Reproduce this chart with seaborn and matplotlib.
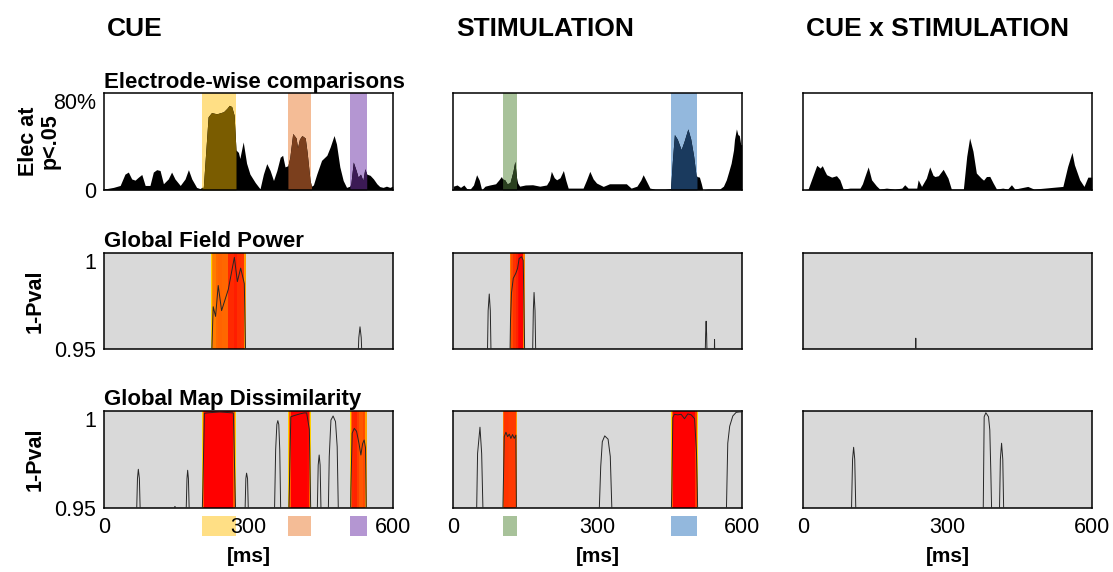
import numpy as np
import matplotlib
matplotlib.use("Agg")
import matplotlib.pyplot as plt
import seaborn as sns
from matplotlib.colors import LinearSegmentedColormap, Normalize

sns.set_theme(style="white")
plt.rcParams['font.family'] = ['Liberation Sans', 'DejaVu Sans']
plt.rcParams['text.color'] = 'black'
plt.rcParams['axes.labelcolor'] = 'black'

# ---- labels ----
col_titles = ["CUE", "STIMULATION", "CUE x STIMULATION"]
row_titles = ["Electrode-wise comparisons", "Global Field Power", "Global Map Dissimilarity"]
x_ticks = [0, 300, 600]

# ---- electrode-wise comparisons (% electrodes at p<.05) ----
cue_elec_t = [0, 5, 19, 33, 43, 50, 57, 64, 71, 78, 85, 95, 102, 109, 116, 123, 133, 140, 147, 158,
              168, 175, 182, 192, 199, 203, 206, 216, 223, 234, 248, 255, 260, 265, 270, 274, 279, 282, 289, 296,
              303, 314, 324, 331, 338, 345, 352, 359, 366, 371, 376, 382, 386, 392, 399, 402, 406, 411, 418, 422,
              428, 431, 435, 442, 452, 463, 470, 478, 483, 490, 497, 504, 511, 513, 518, 524, 528, 533, 538, 542,
              546, 553, 560, 567, 573, 580, 587, 594, 600]
cue_elec_v = [1, 1, 2, 3.6, 13, 14.7, 9, 8, 10.5, 12.7, 3.6, 3.6, 14.7, 16.7, 16, 5, 9, 14.7, 9, 3.6,
              9, 16.7, 9, 2, 1, 2, 2, 60.5, 64, 63, 64.7, 67.5, 70, 69, 62, 33, 31, 26, 39.7, 22,
              13, 6, 0.8, 13, 21.7, 16, 7.7, 16, 27, 28.6, 19, 20, 27, 46.7, 43, 35, 42, 45, 43, 31,
              8, 3, 4, 13, 24.4, 28.6, 35.5, 45, 38, 19, 7.7, 2, 3, 5, 23, 16, 10.5, 13, 7.7, 17.5,
              13, 12, 9, 5, 2.7, 2, 3, 2, 3]

stim_elec_t = [0, 8, 15, 22, 28, 35, 42, 48.5, 54, 59, 66, 76, 88, 95, 100, 102.5, 107, 112, 118, 124,
               128, 131.6, 134, 138, 150, 165, 180, 194, 200, 204, 210, 215, 222, 229, 234, 239, 249, 262, 270, 277,
               284, 291, 298, 312, 325, 339, 352, 360, 370, 382, 390, 395, 402, 409, 420, 440, 452, 456, 460, 466,
               474, 480, 488, 494, 500, 505, 507, 512, 516, 519, 530, 545, 554, 562, 568, 573, 578, 583, 585, 589,
               592, 595, 598, 600]
stim_elec_v = [3, 4, 2, 4, 1, 0.6, 4, 12.5, 8, 0, 3, 4, 5, 8.3, 11, 9, 8.3, 5, 6, 15,
               23.6, 10, 5.6, 3, 4, 4.2, 3, 4, 8, 15.3, 10, 8.3, 10, 16, 8, 1.4, 1.4, 1.4, 1.4, 8,
               15.3, 9, 5.6, 2.8, 5, 5, 5, 5, 1.4, 3, 8, 12.5, 7, 1.4, 0.6, 0.6, 1, 25, 45.8, 42,
               33.3, 40, 50.5, 42, 28, 12, 11, 10.5, 5, 0, 0.6, 0.6, 0.6, 3, 8.3, 15, 22, 33, 41.7, 50.5,
               45.8, 45, 37.5, 37.5]

inter_elec_t = [0, 10, 17, 28, 35, 39.5, 44, 48.5, 59, 69, 76, 83, 97, 118, 123, 128, 135, 142, 152, 159,
                173, 190, 205, 211, 218, 236, 239, 246, 256, 263, 270, 274, 281, 291, 301, 308, 320, 333, 340, 346,
                353, 360, 370, 375, 381, 388, 395, 402, 415, 425, 433, 440, 467, 480, 540, 550, 559, 564, 575, 584,
                592, 600]
inter_elec_v = [0, 0.6, 8.3, 20.3, 18, 20, 16, 12.5, 10.5, 11.7, 8.3, 0.6, 1.4, 1.4, 5, 11, 19, 8.3, 3.3, 0.6,
                1.4, 0.6, 1.4, 4.2, 1.4, 1.4, 8.3, 2.8, 9.7, 19, 12, 11, 11.7, 17, 9.7, 0.6, 0.6, 0.6, 27.8, 43,
                32, 13.9, 9.7, 8, 11, 11.1, 5.6, 0.6, 1.4, 0.6, 4.2, 0.6, 2.8, 0.6, 2.8, 19.4, 31, 20.8, 8.3, 2.8,
                10.5, 10.5]

# highlighted time windows (ms)
cue_bands = [(203, 274), (382, 431), (511, 546)]
stim_bands = [(102.5, 131.6), (452, 507)]
inter_bands = []

# ---- Global Field Power (1 - p) ----
cue_gfp_t = [0, 222.5, 225, 226.6, 231.5, 237, 244, 258, 270.6, 276.8, 283.7, 291.3, 294.5,
             527, 529.5, 532, 534.5, 537, 600]
cue_gfp_v = [0.94, 0.94, 0.96, 0.972, 0.967, 0.983, 0.97, 0.981, 0.9976, 0.985, 0.992, 0.984, 0.94,
             0.94, 0.956, 0.9616, 0.956, 0.94, 0.94]
cue_gfp_sig = [(222.5, 294.5)]

stim_gfp_t = [0, 70.5, 72.5, 74.8, 77, 79, 117.5, 119, 121, 124.7, 130, 133.7, 137, 142, 145.5, 149,
              164.5, 166.5, 168, 170, 172, 523.5, 525, 526, 527, 528.5, 542.5, 543.5, 544.5, 545.5, 600]
stim_gfp_v = [0.94, 0.94, 0.97, 0.9786, 0.97, 0.94, 0.94, 0.965, 0.979, 0.9867, 0.9893, 0.9919, 0.997, 0.9979, 0.996, 0.94,
              0.94, 0.97, 0.9794, 0.97, 0.94, 0.94, 0.958, 0.9645, 0.958, 0.94, 0.94, 0.955, 0.94, 0.94, 0.94]
stim_gfp_sig = [(117.5, 149)]

inter_gfp_t = [0, 233, 234, 235, 600]
inter_gfp_v = [0.94, 0.94, 0.9557, 0.94, 0.94]
inter_gfp_sig = []

# ---- Global Map Dissimilarity (1 - p) ----
cue_gmd_t = [0, 66.5, 69, 70.8, 73, 75.5,
             146, 147, 148,
             169.5, 172, 173.4, 175, 177.5,
             203, 205, 208.3, 213, 240, 268.5, 272, 274,
             292, 294.5, 296, 298, 300.5,
             353.5, 356.5, 359, 361, 363, 365, 367.5,
             383, 385, 388, 393.4, 400, 407, 415.6, 421, 426.6, 428.7, 430,
             442.5, 445, 447, 449, 451.5,
             465.5, 468, 471.5, 476, 481, 484.5, 487.5,
             512, 513, 515.7, 520, 524.8, 530, 533.8, 537.3, 540.6, 543.4, 545.5,
             600]
cue_gmd_v = [0.94, 0.94, 0.965, 0.9698, 0.965, 0.94,
             0.94, 0.9505, 0.94,
             0.94, 0.965, 0.9693, 0.965, 0.94,
             0.94, 0.96, 0.9988, 0.999, 0.9995, 0.999, 0.96, 0.94,
             0.94, 0.965, 0.9678, 0.965, 0.94,
             0.94, 0.98, 0.993, 0.995, 0.993, 0.98, 0.94,
             0.94, 0.96, 0.997, 0.9975, 0.998, 0.9985, 0.999, 0.999, 0.9905, 0.96, 0.94,
             0.94, 0.972, 0.9772, 0.972, 0.94,
             0.94, 0.9764, 0.9953, 0.9974, 0.9945, 0.9815, 0.94,
             0.94, 0.96, 0.9885, 0.991, 0.9895, 0.983, 0.9772, 0.983, 0.985, 0.981, 0.94,
             0.94]
cue_gmd_sig = [(203, 274), (383, 430), (512, 545.5)]

stim_gmd_t = [0, 48, 50.5, 55.5, 59, 62.5,
              102.5, 104, 106, 109.5, 113, 116.4, 119.8, 123.3, 126.7, 130.2, 131.6,
              302.5, 306.7, 310, 315, 322, 326.6, 331,
              453, 454.6, 456.7, 460, 467, 474, 481, 488, 495, 502, 506, 507.6, 509,
              567.5, 571, 575, 581.5, 588.5, 595, 600]
stim_gmd_v = [0.94, 0.94, 0.978, 0.9916, 0.978, 0.94,
              0.94, 0.96, 0.9867, 0.989, 0.9867, 0.988, 0.9858, 0.9878, 0.9858, 0.9875, 0.94,
              0.94, 0.9712, 0.9841, 0.9871, 0.9854, 0.9764, 0.94,
              0.94, 0.96, 0.9966, 0.9983, 0.998, 0.9983, 0.996, 0.9985, 0.998, 0.996, 0.978, 0.96, 0.94,
              0.94, 0.9833, 0.9921, 0.9974, 0.9993, 0.9995, 0.9995]
stim_gmd_sig = [(102.5, 131.6), (453, 509)]

inter_gmd_t = [0, 99.5, 102.5, 104.7, 107, 110, 374, 376.3, 379.8, 385.3, 388, 390.2, 392.5,
               407.5, 410, 412.5, 415, 417.5, 600]
inter_gmd_v = [0.94, 0.94, 0.975, 0.9812, 0.975, 0.94, 0.94, 0.997, 0.9991, 0.997, 0.9902, 0.9678, 0.94,
               0.94, 0.975, 0.9833, 0.975, 0.94, 0.94]
inter_gmd_sig = []

# ---- styles ----
cue_band_colors = ["#ffdf85", "#f4bc96", "#b496d2"]
cue_band_dark = ["#7a5c00", "#7b3f1d", "#3c1a55"]
stim_band_colors = ["#a8c29a", "#93b8dd"]
stim_band_dark = ["#2a401f", "#1a3a5e"]

pcmap = LinearSegmentedColormap.from_list(
    "pval", [(0, "#ffd000"), (0.3, "#ff8c00"), (0.7, "#ff4500"), (0.92, "#ff0000"), (1, "#ff0000")])
pnorm = Normalize(vmin=0.95, vmax=1.0)

columns = [
    dict(elec=(cue_elec_t, cue_elec_v), bands=cue_bands, light=cue_band_colors, dark=cue_band_dark,
         gfp=(cue_gfp_t, cue_gfp_v, cue_gfp_sig), gmd=(cue_gmd_t, cue_gmd_v, cue_gmd_sig)),
    dict(elec=(stim_elec_t, stim_elec_v), bands=stim_bands, light=stim_band_colors, dark=stim_band_dark,
         gfp=(stim_gfp_t, stim_gfp_v, stim_gfp_sig), gmd=(stim_gmd_t, stim_gmd_v, stim_gmd_sig)),
    dict(elec=(inter_elec_t, inter_elec_v), bands=inter_bands, light=[], dark=[],
         gfp=(inter_gfp_t, inter_gfp_v, inter_gfp_sig), gmd=(inter_gmd_t, inter_gmd_v, inter_gmd_sig)),
]

W, H = 1113, 572
lefts = [104.3, 453.3, 803.3]
tops = [93.3, 252.7, 411.0]
aw, ah = 288.4, 96.5
tick_fs = 15.5

fig = plt.figure(figsize=(W / 100, H / 100), dpi=100)


def style_axes(ax):
    for sp in ax.spines.values():
        sp.set_visible(True)
        sp.set_color("black")
        sp.set_linewidth(1.1)
    ax.tick_params(length=0, labelsize=tick_fs, colors="black")
    ax.set_xlim(0, 600)


def pval_panel(ax, t, v, sig):
    t = np.asarray(t)
    v = np.asarray(v)
    ax.set_facecolor("#d9d9d9")
    for a, b in sig:
        m = (t >= a) & (t <= b)
        tb, vb = t[m], v[m]
        c = (vb[1:] + vb[:-1]) / 2
        ax.pcolormesh(tb, [0.95, 1.0], c[np.newaxis, :], cmap=pcmap, norm=pnorm,
                      shading="flat", zorder=1)
    sns.lineplot(x=t, y=v, ax=ax, color="#262626", lw=0.7, estimator=None, zorder=3)
    ax.set_ylim(0.95, 1.0)
    ax.set_xlabel("")
    ax.set_ylabel("")


for c, col in enumerate(columns):
    x0 = lefts[c] / W
    axs = [fig.add_axes([x0, 1 - (tops[r] + ah) / H, aw / W, ah / H]) for r in range(3)]

    # row 1: electrode-wise
    ax = axs[0]
    t = np.asarray(col["elec"][0])
    v = np.asarray(col["elec"][1])
    for (a, b), lc in zip(col["bands"], col["light"]):
        ax.axvspan(a, b, color=lc, lw=0, zorder=0)
    ax.fill_between(t, 0, v, color="black", lw=0, zorder=1)
    for (a, b), dc in zip(col["bands"], col["dark"]):
        ax.fill_between(t, 0, v, where=(t >= a) & (t <= b), color=dc, lw=0, zorder=2)
    ax.set_ylim(0, 80)

    pval_panel(axs[1], *col["gfp"])
    pval_panel(axs[2], *col["gmd"])

    for r, ax in enumerate(axs):
        style_axes(ax)
        if r < 2:
            ax.set_xticks([])
        if c > 0:
            ax.set_yticks([])

    # bottom row: x ticks, ms label, colour keys
    ax = axs[2]
    ax.set_xticks(x_ticks)
    ax.set_xticklabels([str(x) for x in x_ticks])
    ax.tick_params(axis="x", pad=7)
    ax.set_xlabel("[ms]", fontsize=15, fontweight="bold")
    ax.xaxis.set_label_coords(0.5, -0.41)
    for (a, b), lc in zip(col["bands"], col["light"]):
        ax.axvspan(a, b, ymin=-0.30, ymax=-0.093, color=lc, lw=0, clip_on=False, zorder=0.2)
    ax.set_xlim(0, 600)

    fig.text((lefts[c] + 2.5) / W, 1 - 36 / H, col_titles[c], fontsize=19, fontweight="bold",
             ha="left", va="baseline")

    if c == 0:
        axs[0].set_yticks([0, 80])
        axs[0].set_yticklabels(["0", "80%"])
        axs[1].set_yticks([0.95, 1.0])
        axs[1].set_yticklabels(["0.95", "1"])
        axs[2].set_yticks([0.95, 1.0])
        axs[2].set_yticklabels(["0.95", "1"])
        for ax in axs:
            ax.tick_params(axis="y", pad=6)
            ax.get_yticklabels()[-1].set_va("top")
        for r, ax in enumerate(axs):
            ax.text(0.0, 1.06, row_titles[r], transform=ax.transAxes, fontsize=16,
                    fontweight="bold", ha="left", va="baseline")
        axs[0].text(-0.226, 0.5, "Elec at\np<.05", transform=axs[0].transAxes, rotation=90,
                    fontsize=15.5, fontweight="bold", ha="center", va="center",
                    multialignment="center", linespacing=1.05)
        for ax in axs[1:]:
            ax.text(-0.239, 0.5, "1-Pval", transform=ax.transAxes, rotation=90,
                    fontsize=15.5, fontweight="bold", ha="center", va="center")

fig.savefig("out.png", dpi=100)
